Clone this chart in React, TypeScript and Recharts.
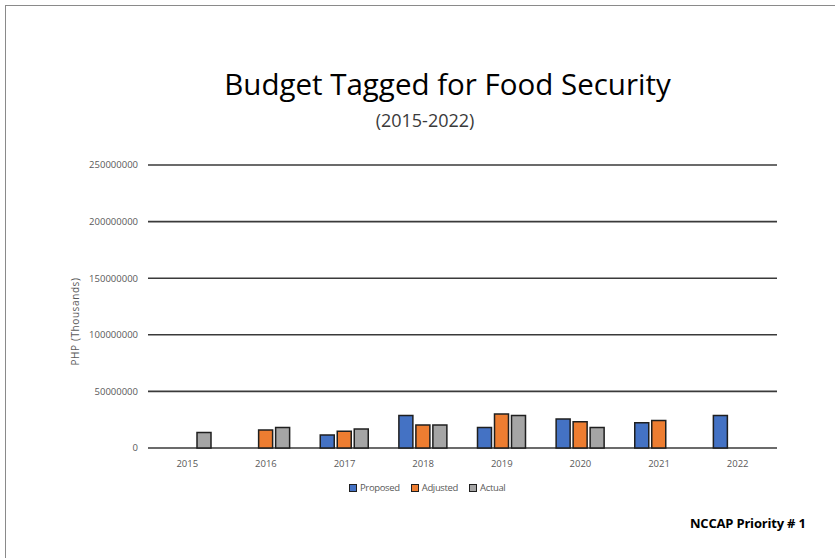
import React from 'react';
import { BarChart, Bar, XAxis, YAxis, CartesianGrid } from 'recharts';

const years = ['2015', '2016', '2017', '2018', '2019', '2020', '2021', '2022'];
const proposed = [null, null, 11500000, 28800000, 18000000, 25600000, 22400000, 28800000];
const adjusted = [null, 15900000, 14700000, 20300000, 30000000, 23200000, 24400000, null];
const actual = [13800000, 18200000, 16800000, 20300000, 28800000, 18000000, null, null];
const yTicks = [0, 50000000, 100000000, 150000000, 200000000, 250000000];

const series = [
  { key: 'proposed', name: 'Proposed', color: '#4472C4' },
  { key: 'adjusted', name: 'Adjusted', color: '#ED7D31' },
  { key: 'actual', name: 'Actual', color: '#A5A5A5' },
];

const data = years.map((year, i) => ({
  year,
  proposed: proposed[i],
  adjusted: adjusted[i],
  actual: actual[i],
}));

const FONT = '"Open Sans", sans-serif';
const tickStyle = { fontSize: 9.5, fill: '#595959', fontFamily: FONT };

function YLabel({ viewBox }: any) {
  const x = viewBox.x + 75;
  const y = viewBox.y + viewBox.height / 2 + 15;
  return (
    <text
      x={x}
      y={y}
      transform={`rotate(-90, ${x}, ${y})`}
      textAnchor="middle"
      dominantBaseline="central"
      fontSize={10}
      fill="#595959"
      fontFamily={FONT}
      letterSpacing={0.6}
    >
      PHP (Thousands)
    </text>
  );
}

export default function App() {
  return (
    <div style={{ position: 'absolute', left: 0, top: 0, width: 835, height: 558, overflow: 'hidden', background: '#fff', fontFamily: FONT }}>
      <div style={{ position: 'absolute', left: 5, top: 5, width: 900, height: 700, borderLeft: '1.5px solid #8a8a8a', borderTop: '1.5px solid #8a8a8a' }} />
      <div style={{ position: 'absolute', left: 0, width: 895, top: 64, textAlign: 'center', fontSize: 29.5, color: '#000', lineHeight: '40px' }}>
        Budget Tagged for Food Security
      </div>
      <div style={{ position: 'absolute', left: 0, width: 850, top: 106, textAlign: 'center', fontSize: 18, color: '#3a3a3a', lineHeight: '28px' }}>
        (2015-2022)
      </div>
      <BarChart
        width={835}
        height={558}
        data={data}
        margin={{ top: 165, right: 58, bottom: 80, left: 0 }}
        barSize={14}
        barGap={3}
      >
        <CartesianGrid vertical={false} stroke="#3a3a3a" strokeWidth={1.6} />
        <XAxis dataKey="year" axisLine={false} tickLine={false} tick={tickStyle} tickMargin={6} height={30} />
        <YAxis
          domain={[0, 250000000]}
          ticks={yTicks}
          width={148}
          axisLine={false}
          tickLine={false}
          tickSize={0}
          tickMargin={10}
          tick={tickStyle}
          interval={0}
          label={<YLabel />}
        />
        {series.map((s) => (
          <Bar
            key={s.key}
            dataKey={s.key}
            name={s.name}
            fill={s.color}
            stroke="#1f1f1f"
            strokeWidth={1.5}
            isAnimationActive={false}
          />
        ))}
      </BarChart>
      <div style={{ position: 'absolute', top: 481, left: 349, display: 'flex', alignItems: 'center', fontSize: 9.5, color: '#595959', lineHeight: '14px', letterSpacing: -0.35 }}>
        {series.map((s) => (
          <div key={s.key} style={{ display: 'flex', alignItems: 'center', marginRight: 11 }}>
            <span style={{ display: 'inline-block', width: 6, height: 6, background: s.color, border: '1px solid #1f1f1f', marginRight: 3 }} />
            {s.name}
          </div>
        ))}
      </div>
      <div style={{ position: 'absolute', top: 514, left: 690, fontSize: 13, fontWeight: 700, color: '#000', lineHeight: '18px', letterSpacing: -0.2 }}>
        NCCAP Priority # 1
      </div>
    </div>
  );
}
